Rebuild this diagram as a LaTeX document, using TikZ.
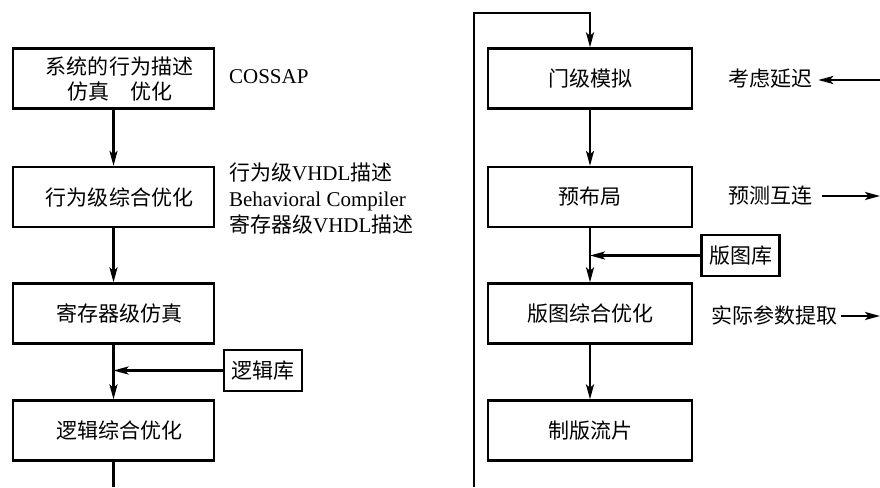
\documentclass[tikz,border=0pt]{standalone}
\usepackage{fontspec}
\setmainfont{Liberation Serif}
\newfontfamily\cjk{Noto Sans CJK SC}
\usetikzlibrary{arrows.meta}
\newcommand{\shr}{\hspace*{12pt}}
\begin{document}
\begin{tikzpicture}[x=1pt,y=-1pt,
  line width=2.3pt,
  arr/.style={-{Stealth[length=15pt,width=8pt,inset=3.5pt]}},
  box/.style={draw, minimum width=201pt, minimum height=60pt, inner sep=0pt,
    font=\cjk\fontsize{21}{25}\selectfont, align=center},
  rbox/.style={box, minimum width=204.6pt},
  libbox/.style={draw, minimum width=78pt, minimum height=41pt, inner sep=0pt,
    font=\cjk\fontsize{21}{25}\selectfont},
  lab/.style={inner sep=0pt, anchor=west, font=\fontsize{21}{26}\selectfont, align=left}]
\useasboundingbox (0,0) rectangle (880,487);
\fill[white] (0,0) rectangle (880,487);
% left column
\node[box] (a1) at (113.5,78.5) {\shr 系统的行为描述\\\shr 仿真　优化};
\node[box] (a2) at (113.5,197) {\shr 行为级综合优化};
\node[box] (a3) at (113.5,313.5) {\shr 寄存器级仿真};
\node[box] (a4) at (113.5,430.5) {\shr 逻辑综合优化};
\node[libbox] (lib1) at (263,370.5) {逻辑库};
\coordinate (aend) at (113.5,487);
\draw[arr] (a1) -- (a2);
\draw[arr] (a2) -- (a3);
\draw[arr] (a3) -- (a4);
\draw[arr] (lib1.west) -- (lib1.west -| a3.south);
\draw (a4.south) -- (aend);
\node[lab] (t1) at (228,77) {COSSAP};
\node[lab] (t2) at (228,199) {{\cjk 行为级}VHDL{\cjk 描述}\\Behavioral Compiler\\{\cjk 寄存器级}VHDL{\cjk 描述}};
% right column
\node[rbox] (b1) at (590,78.5) {门级模拟};
\node[rbox] (b2) at (590,197) {预布局};
\node[rbox] (b3) at (590,313.5) {版图综合优化};
\node[rbox] (b4) at (590,430.5) {制版流片};
\node[libbox] (lib2) at (740.5,255.5) {版图库};
\draw[arr] (b1) -- (b2);
\draw[arr] (b2) -- (b3);
\draw[arr] (b3) -- (b4);
\draw[arr] (lib2.west) -- (lib2.west -| b2.south);
\coordinate (lb) at (474.3,487);
\coordinate (lt) at (474.3,13);
\draw[arr] (lb) -- (lt) -| (b1.north);
% right labels
\node[lab, font=\cjk\fontsize{21}{26}\selectfont] (k1) at (727,79) {考虑延迟};
\node[lab, font=\cjk\fontsize{21}{26}\selectfont] (k2) at (727,196) {预测互连};
\node[lab, font=\cjk\fontsize{21}{26}\selectfont] (k3) at (710.7,315.5) {实际参数提取};
\coordinate (e1) at (880,80);
\coordinate (e2) at (880,196);
\coordinate (e3) at (880,316);
\draw[arr] (e1) -- ([xshift=5pt]k1.east |- e1);
\draw[arr] ([xshift=9pt]k2.east |- e2) -- (e2);
\draw[arr] ([xshift=1.5pt]k3.east |- e3) -- (e3);
\end{tikzpicture}
\end{document}
